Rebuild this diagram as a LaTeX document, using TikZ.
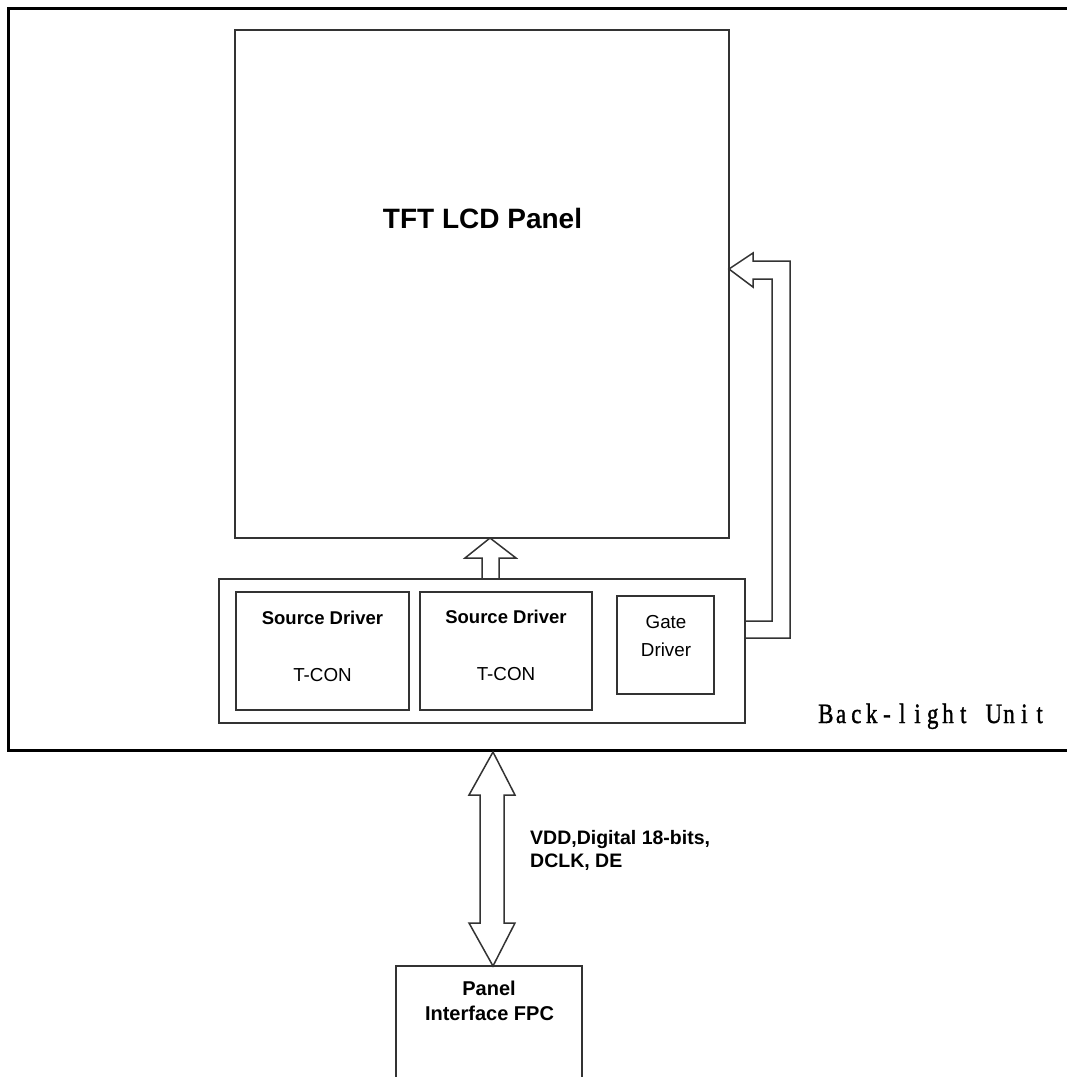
\documentclass[tikz,border=0pt]{standalone}
\usepackage{fontspec}
\setmainfont{Liberation Sans}
\newfontfamily\blufont[FakeStretch=0.82,FakeBold=1.2]{Liberation Serif}
\newcommand\mcell[1]{\makebox[15.27pt][c]{#1}}
\begin{document}
\begin{tikzpicture}[x=1pt,y=-1pt,
  box/.style={draw=black!80, line width=1.5pt, inner sep=0pt, outer sep=0pt},
  outline/.style={draw=black!80, line width=1.5pt, line join=miter},
  lbl/.style={anchor=base, inner sep=0pt, font=\fontsize{18.8}{22}\selectfont},
  blbl/.style={lbl, font=\fontsize{18.5}{22}\selectfont\bfseries}]
\useasboundingbox (0,0) rectangle (1067,1077);
\fill[white] (0,0) rectangle (1067,1077);
% outer back-light unit frame (open on the right)
\draw[line width=3pt, black] (1075,8.5) -- (8.5,8.5) -- (8.5,750) -- (1075,750);
% TFT panel
\node[box, minimum width=494pt, minimum height=508pt] (panel) at (482,284) {};
\node[anchor=base, inner sep=0pt, font=\fontsize{28}{32}\selectfont\bfseries] (paneltxt) at (482.5,228) {TFT LCD Panel};
% driver block
\node[box, minimum width=526pt, minimum height=144pt] (blk) at (482,651) {};
\node[box, minimum width=173pt, minimum height=118pt] (sd1) at (322.5,651) {};
\node[box, minimum width=172pt, minimum height=118pt] (sd2) at (506,651) {};
\node[box, minimum width=97pt, minimum height=98pt] (gd) at (665.5,645) {};
\node[blbl] (sd1a) at (322.5,624) {Source Driver};
\node[lbl] (sd1b) at (322.5,681) {T-CON};
\node[blbl] (sd2a) at (506,623) {Source Driver};
\node[lbl] (sd2b) at (506,680) {T-CON};
\node[lbl] (gda) at (666,628) {Gate};
\node[lbl] (gdb) at (666,656) {Driver};
% up arrow from block to panel
\draw[outline] (blk.north -| 482,0) -- (482,558) -- (465,558) -- (panel.south -| 490,0) -- (516,558) -- (499,558) -- (blk.north -| 499,0);
% bent arrow from block to panel right side
\draw[outline] (blk.east |- 0,621) -- (772,621) -- (772,279) -- (753,279) -- (753,287) -- (panel.east |- 0,269) -- (753,253) -- (753,261) -- (790,261) -- (790,638) -- (blk.east |- 0,638);
% Back-light Unit label
\node[anchor=base west, inner sep=0pt, font=\fontsize{28}{32}\selectfont\blufont] (blu) at (818,723) {\mcell{B}\mcell{a}\mcell{c}\mcell{k}\mcell{-}\mcell{l}\mcell{i}\mcell{g}\mcell{h}\mcell{t}\mcell{ }\mcell{U}\mcell{n}\mcell{i}\mcell{t}};
% FPC box (open at bottom)
\coordinate (fpcnw) at (396,966);
\coordinate (fpcne) at (582,966);
\draw[outline] (396,1085) -- (fpcnw) -- (fpcne) -- (582,1085);
\node[anchor=base, inner sep=0pt, font=\fontsize{20}{24}\selectfont\bfseries] (fpc1) at (489,995) {Panel};
\node[anchor=base, inner sep=0pt, font=\fontsize{20}{24}\selectfont\bfseries] (fpc2) at (489.5,1020) {Interface FPC};
% double arrow between frame and FPC
\draw[outline] (493,752) -- (515,795) -- (504,795) -- (504,923) -- (515,923) -- (493,966) -- (469,923) -- (480,923) -- (480,795) -- (469,795) -- cycle;
\node[anchor=base west, inner sep=0pt, font=\fontsize{19.5}{22}\selectfont\bfseries] (sig1) at (530,844) {VDD,Digital 18-bits,};
\node[anchor=base west, inner sep=0pt, font=\fontsize{19.5}{22}\selectfont\bfseries] (sig2) at (530,867) {DCLK, DE};
\end{tikzpicture}
\end{document}
